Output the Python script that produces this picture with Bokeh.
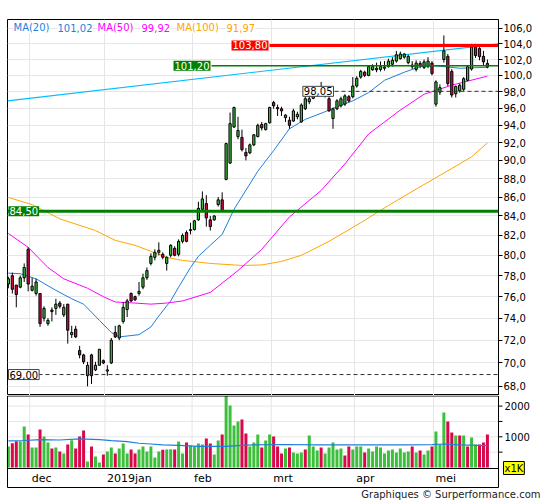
from bokeh.plotting import figure
from bokeh.layouts import column
from bokeh.models import Range1d, FixedTicker, CustomJSTickFormatter, Label, Span, ColumnDataSource
from bokeh.embed import file_html
from bokeh.resources import INLINE
from bokeh.core.properties import value

# ---------------- data ----------------
opens = [77.2, 78.0, 77.1, 76.9, 77.8, 80.6, 76.6, 76.3, 76.3, 74.0,
         73.5, 74.75, 74.9, 75.4, 74.3, 75.3, 72.5, 73.0, 71.1, 70.7,
         68.9, 70.7, 69.4, 69.8, 70.2, 69.3, 70.0, 72.7, 72.2, 73.7,
         74.8, 76.3, 76.0, 76.3, 76.9, 77.8, 79.2, 79.8, 80.3, 80.1,
         79.2, 80.0, 80.7, 80.1, 81.4, 82.3, 82.5, 82.6, 83.6, 84.7,
         85.3, 83.6, 83.6, 85.2, 85.7, 87.9, 89.7, 93.8, 92.7, 92.6,
         90.9, 90.85, 91.75, 92.7, 94.1, 93.5, 94.3, 96.7, 96.1, 95.95,
         94.9, 94.6, 94.5, 95.0, 94.4, 95.95, 96.8, 97.2, 97.6, 98.4,
         97.7, 97.15, 94.8, 95.95, 96.3, 96.5, 97.4, 97.4, 98.7, 99.8,
         100.4, 100.0, 100.7, 100.7, 100.75, 100.9, 101.1, 101.4, 101.8, 102.1,
         102.3, 101.6, 101.3, 100.75, 101.5, 101.0, 101.2, 101.55, 96.5, 97.95,
         102.0, 102.4, 100.5, 97.75, 98.1, 98.3, 99.4, 100.8, 103.6, 103.4,
         102.4, 101.5]
highs = [77.9, 78.3, 77.1, 78.0, 79.2, 80.8, 77.8, 77.7, 76.3, 75.1,
         74.0, 75.0, 75.8, 75.6, 75.3, 75.3, 73.3, 73.3, 71.5, 70.8,
         70.1, 70.8, 70.1, 71.2, 70.3, 69.8, 72.2, 73.3, 73.4, 75.5,
         75.8, 76.4, 76.1, 77.4, 78.2, 78.8, 80.2, 80.6, 81.3, 80.3,
         79.9, 81.1, 80.9, 81.6, 82.2, 82.5, 83.3, 83.6, 85.5, 86.6,
         86.2, 84.0, 84.1, 86.0, 86.5, 92.0, 95.5, 96.2, 95.0, 93.5,
         91.4, 91.9, 93.0, 94.2, 94.4, 94.3, 96.2, 96.9, 96.45, 96.2,
         95.3, 95.0, 95.95, 95.6, 96.6, 97.4, 97.5, 98.0, 98.5, 99.2,
         98.4, 97.6, 96.1, 97.1, 97.4, 97.7, 97.6, 99.8, 99.9, 100.7,
         100.6, 101.3, 101.4, 101.6, 101.75, 101.8, 102.1, 102.3, 103.1, 103.0,
         102.8, 102.6, 101.8, 101.9, 101.8, 102.0, 102.3, 101.8, 99.4, 98.9,
         105.1, 102.7, 100.8, 98.75, 99.0, 99.8, 101.3, 104.0, 104.0, 103.8,
         103.1, 102.0]
lows = [76.8, 76.3, 75.0, 76.8, 77.4, 76.5, 76.5, 76.1, 73.2, 73.7,
        73.3, 73.7, 74.3, 74.9, 74.1, 71.7, 72.2, 72.2, 70.4, 69.9,
        68.0, 68.2, 69.3, 69.8, 69.9, 68.9, 69.9, 72.2, 72.0, 73.5,
        74.1, 75.5, 75.6, 76.1, 76.7, 77.6, 79.0, 79.5, 80.0, 79.6,
        78.5, 79.8, 79.9, 79.9, 81.2, 81.3, 82.1, 82.5, 83.5, 84.5,
        82.9, 82.5, 83.5, 85.0, 84.4, 87.8, 89.6, 93.7, 92.4, 91.0,
        90.0, 90.7, 91.6, 92.6, 93.4, 93.4, 94.2, 95.95, 95.1, 95.1,
        94.4, 93.6, 94.4, 94.7, 94.3, 95.8, 96.5, 97.1, 97.4, 97.5,
        97.3, 95.6, 93.6, 95.8, 96.1, 96.3, 96.7, 97.2, 98.5, 99.6,
        99.8, 99.9, 100.6, 100.4, 100.5, 100.6, 101.0, 101.1, 101.6, 102.0,
        102.1, 101.4, 100.8, 100.5, 100.9, 100.8, 100.9, 100.0, 96.2, 97.6,
        101.6, 98.7, 97.3, 97.3, 97.9, 98.1, 99.3, 100.6, 102.2, 101.9,
        101.2, 100.9]
closes = [77.7, 76.7, 76.2, 77.8, 78.8, 77.2, 77.0, 77.4, 73.5, 74.9,
          73.8, 74.6, 75.3, 75.1, 75.0, 72.9, 72.7, 72.3, 70.7, 70.1,
          69.8, 68.9, 69.8, 71.2, 70.0, 69.4, 72.0, 72.3, 73.3, 75.0,
          75.6, 75.6, 75.7, 76.5, 77.8, 78.5, 79.9, 80.3, 80.5, 79.8,
          79.8, 81.0, 80.0, 81.4, 82.0, 81.4, 82.6, 83.5, 84.8, 85.8,
          83.8, 82.9, 84.0, 85.7, 84.5, 91.9, 94.2, 96.1, 93.4, 91.2,
          90.5, 91.75, 92.9, 94.0, 93.7, 94.2, 96.1, 96.3, 95.95, 95.7,
          95.2, 94.0, 95.7, 95.3, 96.4, 97.15, 97.15, 97.8, 98.2, 97.8,
          98.1, 95.7, 95.95, 96.9, 97.15, 97.5, 96.9, 98.7, 99.65, 100.5,
          100.0, 101.1, 101.1, 100.9, 101.1, 101.05, 101.8, 101.9, 102.6, 102.7,
          102.7, 102.4, 101.1, 101.55, 101.2, 101.7, 101.8, 100.25, 99.2, 98.5,
          103.1, 99.0, 97.6, 98.65, 98.8, 99.6, 101.1, 103.6, 102.5, 102.35,
          101.7, 101.05]
volumes = [685, 793, 859, 859, 1337, 1076, 652, 652, 1239, 1011,
           815, 620, 652, 522, 457, 750, 891, 620, 1011, 1207,
           196, 685, 359, 163, 424, 522, 652, 457, 620, 783,
           457, 587, 457, 587, 685, 522, 685, 326, 522, 576,
           587, 598, 587, 848, 457, 815, 717, 685, 783, 750,
           946, 783, 424, 880, 1076, 2337, 2022, 1370, 1500, 1565,
           1109, 685, 815, 1076, 652, 880, 1076, 1011, 685, 457,
           620, 652, 489, 457, 489, 587, 1044, 685, 554, 652,
           457, 652, 815, 587, 620, 391, 685, 587, 685, 685,
           489, 620, 522, 685, 652, 457, 554, 587, 489, 620,
           489, 522, 685, 489, 554, 424, 554, 685, 1174, 750,
           1794, 1500, 1141, 1044, 1044, 1044, 685, 978, 750, 750,
           815, 1076]
# volume bar colour as read: g = up day, r = down day
vol_dir = list("grrggrggrg" "grgrgrgrrr" "grggrggrgg" "grrggggggr" "ggrggrgggg"
               "rrggrggggr" "rgggrggrrr" "grgggrgggr" "gggggrrggg" "rggggggggg"
               "ggrgrggrgg" "grrgrgrggr" "rr")

month_starts = [6, 25, 47, 67, 88, 108]
month_labels = ["dec", "2019jan", "feb", "mrt", "apr", "mei"]
price_ticks = list(range(68, 107, 2))
vol_ticks = [500, 1000, 1500, 2000]
vol_tick_labels = ["", "1000", "", "2000"]

ma20_x = [0, 3, 7, 12, 16, 19, 23, 26, 28, 33, 36, 38, 41, 43, 46, 48, 51, 54, 57, 63, 67,
          71, 75, 80, 83, 87, 91, 95, 100, 104, 108, 114, 121]
ma20 = [78.25, 78.2, 77.7, 76.6, 75.8, 75.3, 73.8, 72.7, 72.3, 72.5, 73.2, 74.2, 75.6, 76.9,
        78.8, 79.9, 81.0, 82.1, 84.7, 88.8, 91.1, 93.6, 94.7, 95.6, 96.2, 96.9, 97.9, 99.4,
        100.4, 101.1, 101.2, 100.9, 101.02]
ma50_x = [0, 5, 10, 14, 20, 24, 27, 32, 36, 40, 44, 51, 58, 64, 71, 79, 85, 91, 99, 105, 112, 121]
ma50 = [82.2, 80.8, 78.8, 77.7, 76.8, 76.0, 75.5, 75.4, 75.3, 75.4, 75.6, 76.4, 78.5, 80.6,
        83.9, 86.7, 89.6, 93.0, 95.8, 97.7, 98.8, 99.92]
ma100_x = [0, 6, 13, 22, 27, 32, 36, 40, 44, 51, 59, 64, 69, 74, 81, 89, 96, 104, 112, 117, 121]
ma100 = [85.95, 85.2, 83.7, 82.5, 81.5, 81.0, 80.4, 79.8, 79.5, 79.2, 79.0, 79.05, 79.4, 80.0,
         81.4, 83.3, 85.1, 87.1, 89.1, 90.4, 91.97]
vol_ma_x = [0, 4, 8, 13, 18, 23, 26, 30, 33, 36, 39, 43, 48, 55, 60, 70, 78, 90, 100, 107, 110, 114, 121]
vol_ma = [870, 880, 905, 895, 935, 905, 875, 840, 790, 765, 740, 720, 690, 690, 730, 750, 740,
          740, 740, 745, 765, 740, 710]
trend_x = [-0.22, 123.8]
trend_y = [96.9, 104.0]

level_red = 103.80
level_green = 101.20
level_support = 84.50
level_dash_hi = 98.05
level_dash_lo = 69.00

# ---------------- styling / layout constants ----------------
FONT = "DejaVu Sans"
UP = "#3cc03c"
DOWN = "#d8094b"
C20 = "#1e7fdc"
C50 = "#ff00ff"
C100 = "#ffa500"
CTREND = "#00bfff"
GRID = "#e6e6e6"
DKGREEN = "#007f00"

W = 544
X0, X1 = -0.22, 123.8          # price-frame x range (page px 7 .. 498)
FRAME_L, FRAME_R = 7, 498
PX_PER_J = (FRAME_R - FRAME_L) / (X1 - X0)
N = len(closes)
idx = list(range(N))
grid_x = [m - 0.6 for m in month_starts]


def jx(px):
    """page pixel column -> day index (same scale as the price panel)"""
    return X0 + (px - FRAME_L) / PX_PER_J


VOL_PX = 30.7 / 1000.0         # pixels per volume unit
VOL_ZERO_PX = 467


def vy(py):
    """page pixel row (volume panel) -> volume units"""
    return (VOL_ZERO_PX - py) / VOL_PX


def fmt(v, d=2):
    return f"{v:.{d}f}".replace(".", ",")


def no_frame_align(fig):
    try:
        fig.frame_align = False
    except Exception:
        pass


# ---------------- price panel ----------------
p = figure(width=W, height=395, x_range=Range1d(X0, X1), y_range=Range1d(67.23, 107.19),
           y_axis_type="log", y_axis_location="right", x_axis_location=None,
           output_backend="svg", toolbar_location=None,
           min_border_left=FRAME_L, min_border_right=W - FRAME_R, min_border_top=19,
           min_border_bottom=0)
no_frame_align(p)
p.outline_line_color = "black"
p.outline_line_width = 1
p.background_fill_color = "white"
p.border_fill_color = "white"
p.xgrid.ticker = FixedTicker(ticks=grid_x)
p.ygrid.ticker = FixedTicker(ticks=price_ticks)
p.xgrid.grid_line_color = GRID
p.ygrid.grid_line_color = GRID
ax = p.yaxis[0]
ax.ticker = FixedTicker(ticks=price_ticks)
ax.formatter = CustomJSTickFormatter(code="return tick.toFixed(1).replace('.', ',');")
ax.major_label_text_font = FONT
ax.major_label_text_font_size = "10px"
ax.major_label_text_color = "black"
ax.major_tick_out = 4
ax.major_tick_in = 0
ax.minor_tick_line_color = None
ax.major_label_standoff = 1
ax.axis_line_color = "black"

# moving averages and trend line
p.line(ma100_x, ma100, line_color=C100, line_width=1)
p.line(ma50_x, ma50, line_color=C50, line_width=1)
p.line(ma20_x, ma20, line_color=C20, line_width=1)
p.line(trend_x, trend_y, line_color=CTREND, line_width=1.2)

# candles
src = ColumnDataSource(dict(
    x=idx, o=opens, h=highs, l=lows, c=closes,
    top=[max(o, c) for o, c in zip(opens, closes)],
    bot=[min(o, c) for o, c in zip(opens, closes)],
    col=[UP if c >= o else DOWN for o, c in zip(opens, closes)],
))
p.segment(x0="x", y0="l", x1="x", y1="h", line_color="black", line_width=1, source=src)
p.vbar(x="x", width=0.56, top="top", bottom="bot", fill_color="col", line_color="black",
       line_width=1, source=src)

# level lines
p.add_layout(Span(location=level_support, dimension="width", line_color=DKGREEN, line_width=3))
p.segment(x0=[jx(269)], y0=[level_red], x1=[X1], y1=[level_red], line_color="#ff0000", line_width=3)
p.segment(x0=[jx(211)], y0=[level_green], x1=[X1], y1=[level_green], line_color=DKGREEN, line_width=1.5)
p.segment(x0=[jx(334)], y0=[level_dash_hi], x1=[X1], y1=[level_dash_hi], line_color="#333333",
          line_width=1, line_dash="4 3")
p.segment(x0=[jx(38)], y0=[level_dash_lo], x1=[X1], y1=[level_dash_lo], line_color="#333333",
          line_width=1, line_dash="4 3")


def tag(x, y, text, align, fg, bg, border=None):
    p.add_layout(Label(x=x, y=y, text=text, text_align=align, text_baseline="middle",
                       text_font=FONT, text_font_size="10px", text_color=fg,
                       background_fill_color=bg, border_line_color=border, padding=1))


tag(jx(268), level_red, fmt(level_red), "right", "white", "#ff0000")
tag(jx(210), level_green, fmt(level_green), "right", "white", DKGREEN)
tag(jx(8), level_support, fmt(level_support), "left", "white", DKGREEN)
tag(jx(333), level_dash_hi, fmt(level_dash_hi), "right", "black", "white", "#444444")
tag(jx(8), level_dash_lo, fmt(level_dash_lo), "left", "black", "white", "#444444")

# legend
legend_items = [
    (13, "MA(20)", C20), (57, fmt(ma20[-1]), C20),
    (97, "MA(50)", C50), (141, fmt(ma50[-1]), C50),
    (176, "MA(100)", C100), (226, fmt(ma100[-1]), C100),
]
for lpx, t, c in legend_items:
    p.add_layout(Label(x=jx(lpx), y=106.13, text=t, text_align="left", text_baseline="middle",
                       text_font=FONT, text_font_size="10px", text_color=c,
                       background_fill_color="white", padding=0))

# ---------------- volume panel (frame spans the whole lower strip) ----------------
v = figure(width=W, height=105, x_range=Range1d(jx(0), jx(W)), y_range=Range1d(vy(500), vy(395)),
           x_axis_location=None, y_axis_location=None,
           output_backend="svg", toolbar_location=None,
           min_border_left=0, min_border_right=0, min_border_top=0, min_border_bottom=0)
no_frame_align(v)
v.outline_line_color = None
v.background_fill_color = "white"
v.border_fill_color = "white"
v.xgrid.visible = False
v.ygrid.visible = False

ng = len(grid_x)
v.segment(x0=grid_x, y0=[0] * ng, x1=grid_x, y1=[vy(395)] * ng, line_color=GRID, line_width=1)
nt = len(vol_ticks)
v.segment(x0=[X0] * nt, y0=vol_ticks, x1=[X1] * nt, y1=vol_ticks, line_color=GRID, line_width=1)

vsrc = ColumnDataSource(dict(x=idx, vol=[min(q, vy(395.5)) for q in volumes],
                             col=[UP if d == "g" else DOWN for d in vol_dir]))
v.vbar(x="x", width=0.76, top="vol", bottom=0, fill_color="col", line_color=None, source=vsrc)
v.line(vol_ma_x, vol_ma, line_color=C20, line_width=1.2)

# panel frame: top, volume/date separator, bottom, left, right
yb, yt = vy(487), vy(395.5)
v.segment(x0=[X0, X0, X0, X0, X1], y0=[yt, vy(468), yb, yb, yb],
          x1=[X1, X1, X1, X0, X1], y1=[yt, vy(468), yb, yt, yt],
          line_color="black", line_width=1)

# right-hand volume scale
tick_len = 4 / PX_PER_J
v.segment(x0=[X1] * nt, y0=vol_ticks, x1=[X1 + tick_len] * nt, y1=vol_ticks,
          line_color="black", line_width=1)
v.text(x=[X1 + 6 / PX_PER_J] * nt, y=vol_ticks, text=vol_tick_labels,
       text_font=value(FONT), text_font_size="10px", text_align="left",
       text_baseline="middle", text_color="black")

# month labels
v.text(x=[m - 0.1 for m in month_starts], y=[vy(478)] * len(month_starts), text=month_labels,
       text_font=value(FONT), text_font_size="11px", text_align="left",
       text_baseline="middle", text_color="black")

v.add_layout(Label(x=jx(503), y=vy(467.5), text="x1K", text_align="left", text_baseline="middle",
                   text_font=FONT, text_font_size="10px", text_color="black",
                   background_fill_color="#ffff00", border_line_color="black", padding=1))
v.add_layout(Label(x=jx(540), y=vy(493.5), text="Graphiques © Surperformance.com",
                   text_align="right", text_baseline="middle", text_font=FONT,
                   text_font_size="10px", text_color="#222222"))

layout = column(p, v, spacing=0)
open("out.html", "w").write(file_html(layout, INLINE))
